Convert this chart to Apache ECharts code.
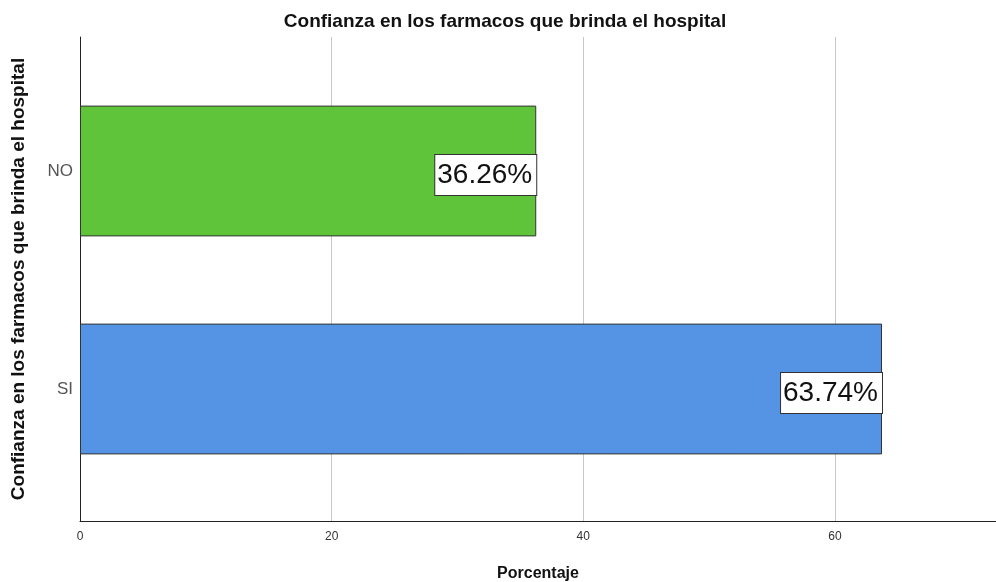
<!DOCTYPE html>
<html><head><meta charset="utf-8">
<script src="https://cdn.jsdelivr.net/npm/echarts@6/dist/echarts.min.js"></script>
<style>html,body{margin:0;padding:0;background:#fff}#c{width:996px;height:582px}</style>
</head><body><div id="c"></div>
<script>
const categories = ['SI', 'NO'];
const values = [63.74, 36.26];
const barColors = ['#5594e4', '#5fc43a'];
const xTicks = [0, 20, 40, 60];
const xMax = 72.8;

const chart = echarts.init(document.getElementById('c'), null, {renderer: 'canvas'});
const font = '"Liberation Sans", Arial, sans-serif';
chart.setOption({
  animation: false,
  backgroundColor: '#ffffff',
  title: {
    text: 'Confianza en los farmacos que brinda el hospital',
    left: 500, top: 7, textAlign: 'center',
    textStyle: {fontFamily: font, fontSize: 19, fontWeight: 'bold', color: '#111'}
  },
  grid: [
    {left: 80, right: 0, top: 37, bottom: 61, outerBoundsMode: 'none', containLabel: false},
    {left: 80, right: 0, top: 62, bottom: 84, outerBoundsMode: 'none', containLabel: false}
  ],
  xAxis: [
    {
      type: 'value', gridIndex: 0, min: 0, max: xMax, interval: 20,
      name: 'Porcentaje', nameLocation: 'middle', nameGap: 45,
      nameTextStyle: {fontFamily: font, fontSize: 16, fontWeight: 'bold', color: '#111'},
      axisLine: {show: true, onZero: false, lineStyle: {color: '#222', width: 1}},
      axisTick: {show: false},
      axisLabel: {fontFamily: font, fontSize: 12, color: '#333', margin: 10, showMaxLabel: false,
        formatter: v => xTicks.includes(v) ? String(v) : ''},
      splitLine: {show: true, lineStyle: {color: '#c8c8c8', width: 1}}
    },
    {
      type: 'value', gridIndex: 1, min: 0, max: xMax, show: false
    }
  ],
  yAxis: [
    {
      type: 'value', gridIndex: 0, min: 0, max: 1,
      name: 'Confianza en los farmacos que brinda el hospital', nameLocation: 'middle', nameGap: 52,
      nameTextStyle: {fontFamily: font, fontSize: 19, fontWeight: 'bold', color: '#111'},
      axisLine: {show: true, lineStyle: {color: '#222', width: 1}},
      axisTick: {show: false}, axisLabel: {show: false}, splitLine: {show: false}
    },
    {
      type: 'category', gridIndex: 1, data: categories,
      axisLine: {show: false}, axisTick: {show: false},
      axisLabel: {fontFamily: font, fontSize: 17, color: '#555', margin: 7, padding: [7, 0, 0, 0]},
      splitLine: {show: false}
    }
  ],
  series: [{
    type: 'bar', xAxisIndex: 1, yAxisIndex: 1,
    barWidth: '60%',
    data: values.map((v, i) => ({value: v, itemStyle: {color: barColors[i]}})),
    itemStyle: {borderColor: '#333', borderWidth: 1},
    label: {
      show: true, position: 'insideRight', distance: 0, offset: [0, 4],
      formatter: p => p.value.toFixed(2) + '%',
      fontFamily: font, fontSize: 28, color: '#111',
      backgroundColor: '#ffffff', borderColor: '#333', borderWidth: 1,
      padding: [7, 4, 5, 2]
    }
  }]
});
</script></body></html>
